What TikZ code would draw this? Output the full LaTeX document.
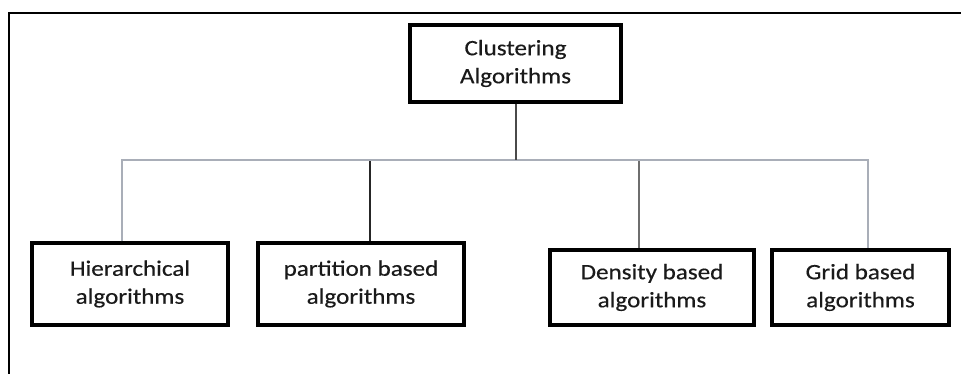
\documentclass[tikz,border=0pt]{standalone}
\usepackage{fontspec}
\newfontfamily\boxfont{Carlito}[FakeStretch=1.14,FakeBold=0.4]
\definecolor{conn}{HTML}{4A4A4A}
\definecolor{hline}{HTML}{A9AEB8}
\definecolor{bluegray}{HTML}{9AA6BE}
\definecolor{midgray}{HTML}{6E6E6E}
\definecolor{txt}{HTML}{1A1A1A}
\tikzset{
  algbox/.style={draw=black, line width=3.5pt, fill=white, rectangle, align=center,
    inner sep=0pt, text=txt, font=\boxfont\fontsize{22}{28}\selectfont},
  link/.style={line width=1.8pt}
}
\begin{document}
\begin{tikzpicture}[x=1pt,y=-1pt]
\useasboundingbox (0,0) rectangle (961,374);
\fill[white] (0,0) rectangle (961,374);
% outer frame (only top and left visible)
\draw[line width=2pt, line cap=rect] (9,374) -- (9,13) -- (961,13);

\node[algbox, minimum width=211pt, minimum height=77pt] (root) at (515.5,63.5) {Clustering\\Algorithms};
\node[algbox, minimum width=196pt, minimum height=82pt] (hier) at (130,284) {Hierarchical\\algorithms};
\node[algbox, minimum width=206pt, minimum height=82pt] (part) at (361,284) {partition based\\algorithms};
\node[algbox, minimum width=204pt, minimum height=75pt] (dens) at (652,287.5) {Density based\\algorithms};
\node[algbox, minimum width=177pt, minimum height=75pt] (grid) at (860.5,287.5) {Grid based\\algorithms};

\coordinate (jn) at (516,160);
\coordinate (b1) at (122,160);
\coordinate (b2) at (370,160);
\coordinate (b3) at (639,160);
\coordinate (b4) at (868,160);

\draw[link, draw=bluegray] (b1) -- (b1 |- hier.north);
\draw[link, draw=black!85] (b2) -- (b2 |- part.north);
\draw[link, draw=midgray] (b3) -- (b3 |- dens.north);
\draw[link, draw=bluegray] (b4) -- (b4 |- grid.north);
\draw[link, draw=hline, line join=miter] (b1 |- hier.north) -- (b1) -- (b4) -- (b4 |- grid.north);
\draw[link, draw=conn] (jn |- root.south) -- (jn);
\end{tikzpicture}
\end{document}
